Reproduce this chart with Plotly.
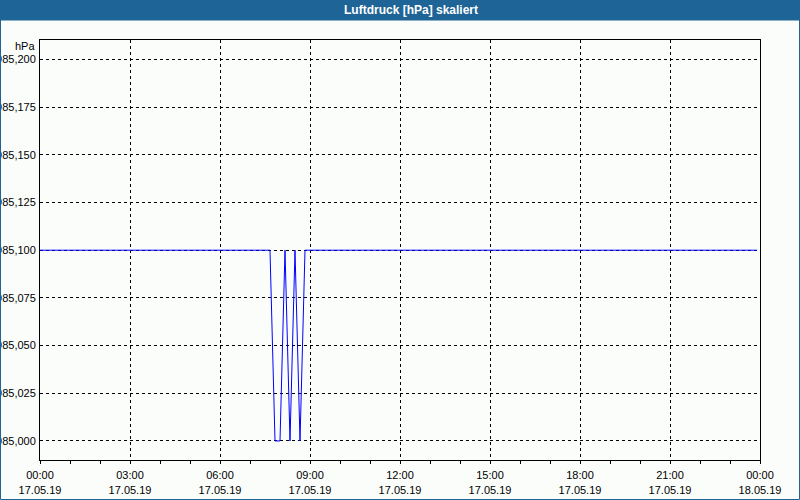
import plotly.graph_objects as go

# ---- data ----
times = ["2019-05-17 00:00", "2019-05-17 07:40", "2019-05-17 07:50", "2019-05-17 08:00",
         "2019-05-17 08:10", "2019-05-17 08:20", "2019-05-17 08:30", "2019-05-17 08:40",
         "2019-05-17 08:50", "2019-05-17 23:54"]
pressure = [985.1, 985.1, 985.0, 985.0, 985.1, 985.0, 985.1, 985.0, 985.1, 985.1]

y_ticks = [985.0, 985.025, 985.05, 985.075, 985.1, 985.125, 985.15, 985.175, 985.2]
y_ticktext = ["985,000", "985,025", "985,050", "985,075", "985,100",
              "985,125", "985,150", "985,175", "985,200"]
x_ticks = ["2019-05-17 00:00", "2019-05-17 03:00", "2019-05-17 06:00", "2019-05-17 09:00",
           "2019-05-17 12:00", "2019-05-17 15:00", "2019-05-17 18:00", "2019-05-17 21:00",
           "2019-05-18 00:00"]
x_ticktext = ["00:00<br>17.05.19", "03:00<br>17.05.19", "06:00<br>17.05.19", "09:00<br>17.05.19",
              "12:00<br>17.05.19", "15:00<br>17.05.19", "18:00<br>17.05.19", "21:00<br>17.05.19",
              "00:00<br>18.05.19"]
title_text = "Luftdruck [hPa] skaliert"
unit_text = "hPa"

W, H = 800, 500
L, R, T, B = 40, 40, 40, 40
PW, PH = W - L - R, H - T - B
BG = "#fbfdfb"
BLUE = "#1e6496"
FONT = "Liberation Sans"

def px_x(x):
    return (x - L) / PW

def px_y(y):
    return 1 - (y - T) / PH

fig = go.Figure()
fig.add_trace(go.Scatter(x=times, y=pressure, mode="lines",
                         line=dict(color="#0000ff", width=1), showlegend=False))

fig.update_layout(
    width=W, height=H,
    margin=dict(l=L, r=R, t=T, b=B, autoexpand=False),
    paper_bgcolor=BG, plot_bgcolor=BG,
    font=dict(family=FONT, size=11, color="black"),
    xaxis=dict(
        type="date",
        range=["2019-05-17 00:00", "2019-05-18 00:00"],
        tickvals=x_ticks, ticktext=x_ticktext,
        ticks="outside", ticklen=3, tickcolor="black", tickwidth=1,
        ticklabelstandoff=2,
        minor=dict(dtick=3600000, ticks="outside", ticklen=3, tickcolor="black", showgrid=False),
        showgrid=True, gridcolor="black", gridwidth=1, griddash="3px,3px",
        showline=True, linecolor="black", linewidth=1, mirror=True,
        zeroline=False, tickangle=0, automargin=False,
        tickfont=dict(family=FONT, size=11, color="black"),
    ),
    yaxis=dict(
        range=[984.99, 985.2102],
        tickvals=y_ticks, ticktext=y_ticktext,
        ticks="", ticklabelstandoff=1,
        showgrid=True, gridcolor="black", gridwidth=1, griddash="3px,3px",
        showline=True, linecolor="black", linewidth=1, mirror=True,
        zeroline=False, automargin=False,
        tickfont=dict(family=FONT, size=11, color="black"),
    ),
    shapes=[
        dict(type="rect", xref="paper", yref="paper",
             x0=px_x(0), x1=px_x(800), y0=px_y(20.5), y1=px_y(0),
             fillcolor=BLUE, line=dict(width=0), layer="above"),
        dict(type="rect", xref="paper", yref="paper",
             x0=px_x(0.5), x1=px_x(799.5), y0=px_y(499.5), y1=px_y(0.5),
             fillcolor="rgba(0,0,0,0)", line=dict(color=BLUE, width=1), layer="above"),
    ],
    annotations=[
        dict(text="<b>" + title_text + "</b>", xref="paper", yref="paper",
             x=px_x(411), y=px_y(10), xanchor="center", yanchor="middle",
             showarrow=False, font=dict(family=FONT, size=12, color="white")),
        dict(text=unit_text, xref="paper", yref="paper",
             x=px_x(37), y=px_y(46), xanchor="right", yanchor="middle",
             showarrow=False, font=dict(family=FONT, size=11, color="black")),
    ],
)

fig.write_html("out.html", config={"displayModeBar": False},
               post_script="document.body.style.margin='0';document.body.style.overflow='hidden';")
